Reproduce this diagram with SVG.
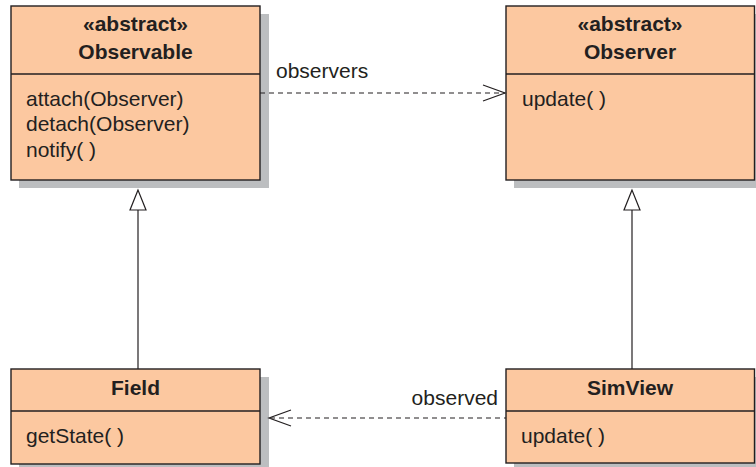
<svg xmlns="http://www.w3.org/2000/svg" width="756" height="467" viewBox="0 0 756 467">
<style>
.shadow{fill:#bcbec0;}
.box{fill:#fcc8a0;stroke:#231f20;stroke-width:1.4;}
.div{stroke:#231f20;stroke-width:1.4;}
text{font-family:"Liberation Sans",Arial,sans-serif;font-size:21px;fill:#231f20;}
.b{font-weight:bold;text-anchor:middle;}
.edge{stroke:#231f20;stroke-width:1.2;fill:none;}
.dash{stroke-dasharray:5,4;}
.head{stroke:#231f20;stroke-width:1.2;fill:none;}
.tri{stroke:#231f20;stroke-width:1.2;fill:#ffffff;}
</style>
<rect width="756" height="467" fill="#ffffff"/>
<g id="observable">
<rect class="shadow" x="19" y="14" width="250" height="174"/>
<rect class="box" x="11" y="6" width="249" height="174"/>
<line class="div" x1="11" y1="74" x2="260" y2="74"/>
<text class="b" x="135.5" y="31">«abstract»</text>
<text class="b" x="135.5" y="59">Observable</text>
<text x="26" y="106">attach(Observer)</text>
<text x="26" y="131">detach(Observer)</text>
<text x="26" y="157">notify( )</text>
</g>
<g id="observer">
<rect class="shadow" x="514" y="14" width="250" height="174"/>
<rect class="box" x="506" y="6" width="248.5" height="174"/>
<line class="div" x1="506" y1="74" x2="754.5" y2="74"/>
<text class="b" x="630" y="31">«abstract»</text>
<text class="b" x="630" y="59">Observer</text>
<text x="522" y="106">update( )</text>
</g>
<g id="field">
<rect class="shadow" x="19" y="377" width="250" height="95"/>
<rect class="box" x="11" y="369" width="249" height="95"/>
<line class="div" x1="11" y1="411" x2="260" y2="411"/>
<text class="b" x="135.5" y="395">Field</text>
<text x="26" y="443">getState( )</text>
</g>
<g id="simview">
<rect class="shadow" x="514" y="377" width="250" height="95"/>
<rect class="box" x="506" y="369" width="248.5" height="94"/>
<line class="div" x1="506" y1="411" x2="754.5" y2="411"/>
<text class="b" x="630" y="395">SimView</text>
<text x="521" y="443">update( )</text>
</g>
<g id="connectors">
<line class="edge dash" x1="260" y1="93" x2="505" y2="93"/>
<polyline class="head" points="483,85 505,93 483,101"/>
<text x="276" y="78">observers</text>
<line class="edge dash" x1="270" y1="418" x2="506" y2="418"/>
<polyline class="head" points="291,410 269,418 291,426"/>
<text x="498" y="405" text-anchor="end">observed</text>
<line class="edge" x1="138" y1="210" x2="138" y2="369"/>
<polygon class="tri" points="138,190 130,210 146,210"/>
<line class="edge" x1="632" y1="210" x2="632" y2="369"/>
<polygon class="tri" points="632,190 624,210 640,210"/>
</g>
</svg>
